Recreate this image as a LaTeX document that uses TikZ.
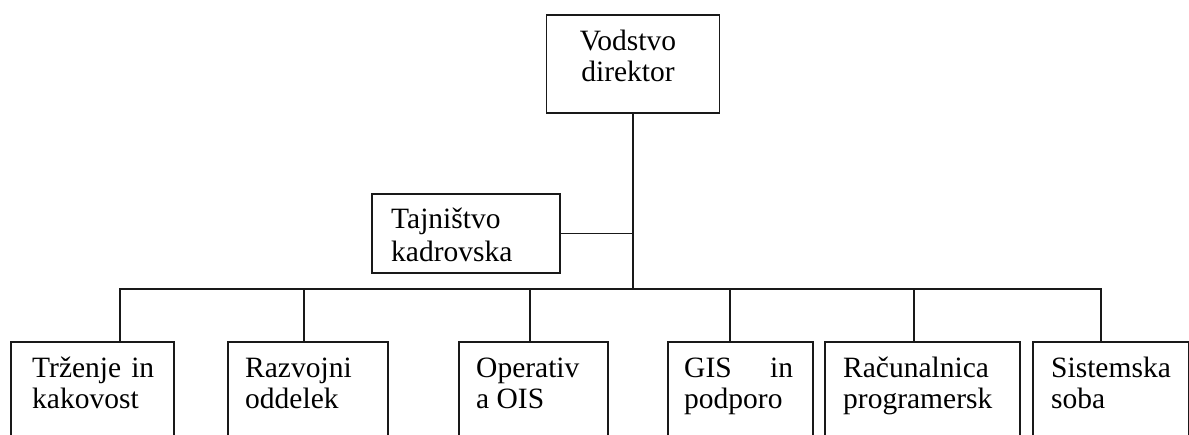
\documentclass[tikz,border=0pt]{standalone}
\usepackage{fontspec}
\setmainfont{Liberation Serif}
\begin{document}
\begin{tikzpicture}[x=1pt,y=-1pt,
  box/.style={draw=black!90, line width=1.7pt, inner sep=0pt, anchor=north west},
  lowbox/.style={box, minimum height=130pt},
  lbl/.style={inner sep=0pt, anchor=base west, font=\fontsize{29.5}{31.5}\selectfont},
  conn/.style={draw=black!90, line width=1.7pt}]
\useasboundingbox (0,0) rectangle (1189,434);
\clip (0,0) rectangle (1189,434);
% boxes
\node[box, minimum width=173pt, minimum height=98pt] (top) at (545.5,14) {};
\node[box, minimum width=188pt, minimum height=79pt] (taj) at (371,193) {};
\node[lowbox, minimum width=163pt] (b1) at (10,341) {};
\node[lowbox, minimum width=160pt] (b2) at (227,341) {};
\node[lowbox, minimum width=149pt] (b3) at (458,341) {};
\node[lowbox, minimum width=145pt] (b4) at (667,341) {};
\node[lowbox, minimum width=195pt] (b5) at (824,341) {};
\node[lowbox, minimum width=156pt] (b6) at (1032,341) {};
% texts
\node[lbl, anchor=base] (toptxt) at (628,50) {\parbox[t]{140pt}{\centering Vodstvo\\direktor}};
\node[lbl] (tajtxt) at (391,228) {\parbox[t]{150pt}{\baselineskip=33pt Tajništvo\\kadrovska}};
\node[lbl] (t1) at (32,377) {\parbox[t]{140pt}{\leavevmode\hbox to 122pt{Trženje\hfill in}\\kakovost}};
\node[lbl] (t2) at (245,377) {\parbox[t]{140pt}{Razvojni\\oddelek}};
\node[lbl] (t3) at (476,377) {\parbox[t]{130pt}{Operativ\\a OIS}};
\node[lbl] (t4) at (684,377) {\parbox[t]{125pt}{\leavevmode\hbox to 109pt{GIS\hfill in}\\podporo}};
\node[lbl] (t5) at (843,377) {\parbox[t]{175pt}{Računalnica\\programersk}};
\node[lbl] (t6) at (1051,377) {\parbox[t]{135pt}{Sistemska\\soba}};
% connectors
\coordinate (bus) at (top.south |- 0,289);
\coordinate (d1) at ([xshift=110pt]b1.north west);
\coordinate (d2) at ([xshift=77pt]b2.north west);
\coordinate (d3) at ([xshift=72pt]b3.north west);
\coordinate (d4) at ([xshift=63pt]b4.north west);
\coordinate (d5) at ([xshift=90pt]b5.north west);
\coordinate (d6) at ([xshift=69pt]b6.north west);
\draw[conn] (top.south) -- (bus);
\draw[conn] (taj.east) -- (taj.east -| top.south);
\draw[conn] (d1) |- (bus) -| (d6);
\foreach \i in {2,...,5} \draw[conn] (d\i |- bus) -- (d\i);
\end{tikzpicture}
\end{document}
